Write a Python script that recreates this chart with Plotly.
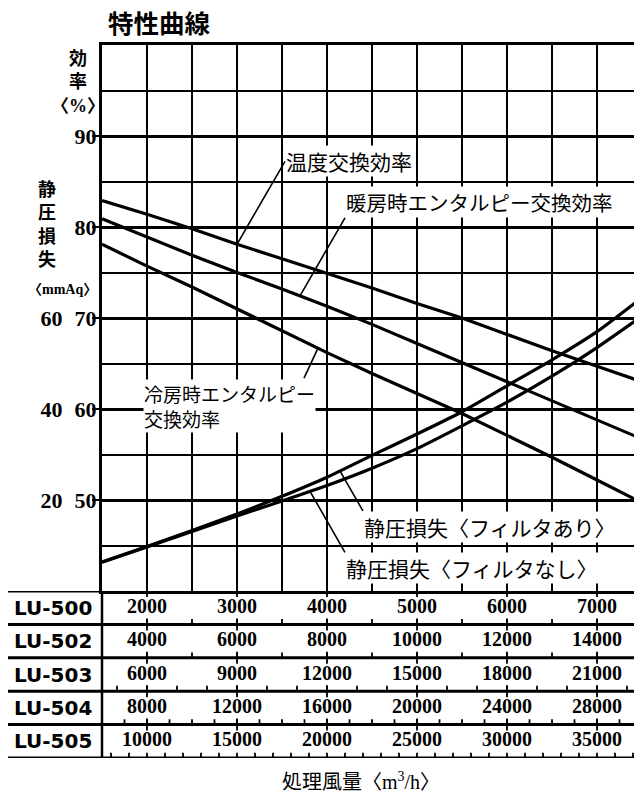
import numpy as np
import plotly.graph_objects as go

# ---------------- data (airflow in LU-500 units, m3/h) ----------------
flow = [1500, 2000, 2500, 3000, 3500, 4000, 4500, 5000, 5500, 6000, 6500, 7000, 7500]
temp_eff = [82.9, 81.4, 79.8, 78.1, 76.5, 74.9, 73.3, 71.6, 70.0, 68.2, 66.4, 64.7, 63.0]
heat_eff = [80.9, 78.9, 76.9, 75.0, 73.2, 71.3, 69.3, 67.2, 65.1, 63.0, 60.9, 58.8, 56.7]
cool_eff = [78.1, 75.7, 73.4, 71.0, 68.6, 66.2, 63.9, 61.7, 59.5, 57.1, 54.7, 52.2, 49.7]
sp_filter = [6.4, 9.8, 13.3, 16.9, 20.8, 25.0, 29.8, 34.5, 39.4, 45.1, 50.8, 57.0, 64.5]
sp_nofilter = [6.3, 9.7, 13.1, 16.5, 19.8, 23.2, 27.0, 31.3, 36.3, 41.5, 47.2, 53.5, 60.4]

eff_ticks = [50, 60, 70, 80, 90]
sp_ticks = [20, 40, 60]

models = ["LU-500", "LU-502", "LU-503", "LU-504", "LU-505"]
scale = [1, 2, 3, 4, 5]
row_labels = [
    [2000, 3000, 4000, 5000, 6000, 7000],
    [4000, 6000, 8000, 10000, 12000, 14000],
    [6000, 9000, 12000, 15000, 18000, 21000],
    [8000, 12000, 16000, 20000, 24000, 28000],
    [10000, 15000, 20000, 25000, 30000, 35000],
]
minor_step = [500, 1000, 1000, 1000, 1000]

# ---------------- layout geometry ----------------
W, H = 634, 795
M_T, M_B = 45, 37
PLOT_H = H - M_T - M_B
X_DOM0 = 102 / W
Y_DOM0 = 167 / PLOT_H
x_lo, x_hi = 1500, 7411
x2_lo = x_lo - X_DOM0 / (1 - X_DOM0) * (x_hi - x_lo)


def px(x):
    return x / W


def py(y):
    return (H - M_B - y) / PLOT_H


CJK = "Noto Sans CJK JP"
SERIF = "Liberation Serif, Noto Sans CJK JP"

fig = go.Figure()
eff_style = dict(color="black", width=3.2)
sp_style = dict(color="black", width=3.2, shape="spline", smoothing=0.6)
for s in [temp_eff, heat_eff, cool_eff]:
    fig.add_trace(go.Scatter(x=flow, y=s, mode="lines", line=eff_style,
                             xaxis="x", yaxis="y", hoverinfo="skip"))
for s in [sp_filter, sp_nofilter]:
    fig.add_trace(go.Scatter(x=flow, y=s, mode="lines", line=sp_style,
                             xaxis="x", yaxis="y2", hoverinfo="skip"))

# ---------------- table ----------------
n = len(models)
for i, (m, f, vals, step) in enumerate(zip(models, scale, row_labels, minor_step)):
    top = n - i
    ctr = top - 0.5
    bot = top - 1
    fig.add_trace(go.Scatter(
        x=[v / f for v in vals], y=[ctr] * len(vals), mode="text",
        text=[str(v) for v in vals],
        textfont=dict(family=SERIF, size=20, color="black", weight="bold"),
        xaxis="x2", yaxis="y3", hoverinfo="skip"))
    xs, ys = [], []
    for v in vals:
        xs += [v / f, v / f, None]
        ys += [top - 0.18, top + 0.18, None]
    start = int(np.ceil(x_lo * f / step)) * step
    for v in range(start, int(x_hi * f) + 1, step):
        xs += [v / f, v / f, None]
        ys += [bot, bot + 0.16, None]
    fig.add_trace(go.Scatter(x=xs, y=ys, mode="lines",
                             line=dict(color="black", width=1.8),
                             xaxis="x2", yaxis="y3", hoverinfo="skip"))
    fig.add_annotation(text=m, xref="paper", x=px(12), xanchor="left",
                       yref="y3", y=ctr, yanchor="middle", showarrow=False,
                       font=dict(family="DejaVu Sans", size=20, color="black", weight="bold"))

for k in range(n + 1):
    fig.add_shape(type="line", xref="paper", x0=px(8), x1=1, yref="y3", y0=k, y1=k,
                  line=dict(color="black", width=3))
fig.add_shape(type="line", xref="x2", x0=x_lo, x1=x_lo, yref="y3", y0=0, y1=n,
              line=dict(color="black", width=2.5))


def at(xv, s):
    return float(np.interp(xv, flow, s))


def lab_font(sz):
    return dict(family=CJK, size=sz, color="black")


# temperature
fig.add_annotation(x=3000, y=at(3000, temp_eff), xref="x", yref="y",
                   text="温度交換効率", showarrow=True, arrowhead=0, arrowwidth=1.6,
                   arrowcolor="black", ax=48, ay=-83, xanchor="left", yanchor="middle",
                   font=lab_font(21), bgcolor="white", borderpad=0)
# heating
fig.add_annotation(x=3700, y=at(3700, heat_eff), xref="x", yref="y",
                   text="暖房時エンタルピー交換効率", showarrow=True, arrowhead=0, arrowwidth=1.6,
                   arrowcolor="black", ax=45, ay=-78, xanchor="left", yanchor="bottom",
                   font=lab_font(20.5), bgcolor="white", borderpad=0)
# cooling: text + leader line
fig.add_annotation(x=px(316), y=py(379), xref="paper", yref="paper",
                   text="冷房時エンタルピー<br>交換効率", showarrow=False, align="left",
                   xanchor="right", yanchor="top",
                   font=lab_font(19), bgcolor="white", borderpad=0)
fig.add_shape(type="line", xref="x", yref="y", xsizemode="pixel", ysizemode="pixel",
              xanchor=3900, yanchor=at(3900, cool_eff), x0=0, x1=-14, y0=0, y1=-30,
              line=dict(color="black", width=1.6))
# static pressure
fig.add_annotation(x=4144, y=at(4144, sp_filter), xref="x", yref="y2",
                   text="静圧損失〈フィルタあり〉", showarrow=True, arrowhead=0, arrowwidth=1.6,
                   arrowcolor="black", ax=23, ay=40, xanchor="left", yanchor="top",
                   font=lab_font(21), bgcolor="white", borderpad=0)
fig.add_annotation(x=3811, y=at(3811, sp_nofilter), xref="x", yref="y2",
                   text="静圧損失〈フィルタなし〉", showarrow=True, arrowhead=0, arrowwidth=1.6,
                   arrowcolor="black", ax=35, ay=61, xanchor="left", yanchor="top",
                   font=lab_font(21), bgcolor="white", borderpad=0)

# ---------------- axis titles / title ----------------
fig.add_annotation(text="効<br>率<br>〈%〉", x=px(78), y=py(47), xref="paper", yref="paper",
                   showarrow=False, xanchor="center", yanchor="top", align="center",
                   font=dict(family=SERIF, size=18, color="black", weight="bold"))
fig.add_annotation(text="静<br>圧<br>損<br>失", x=px(47), y=py(178), xref="paper", yref="paper",
                   showarrow=False, xanchor="center", yanchor="top", align="center",
                   font=dict(family=SERIF, size=18, color="black", weight="bold"))
fig.add_annotation(text="〈mmAq〉", x=px(62), y=py(289), xref="paper", yref="paper",
                   showarrow=False, xanchor="center", yanchor="middle",
                   font=dict(family=SERIF, size=14, color="black", weight="bold"))
fig.add_annotation(text="特性曲線", x=px(106), y=py(21), xref="paper", yref="paper",
                   showarrow=False, xanchor="left", yanchor="middle",
                   font=dict(family=CJK, size=25.5, color="black", weight="bold"))
fig.add_annotation(text="処理風量〈m<sup>3</sup>/h〉", x=px(361), y=py(781),
                   xref="paper", yref="paper", showarrow=False,
                   xanchor="center", yanchor="middle",
                   font=dict(family=SERIF, size=20, color="black"))

tickfont = dict(family=SERIF, size=22, color="black", weight="bold")
fig.update_layout(
    width=W, height=H, margin=dict(l=0, r=0, t=M_T, b=M_B, pad=0),
    paper_bgcolor="white", plot_bgcolor="white", showlegend=False,
    xaxis=dict(domain=[X_DOM0, 1], range=[x_lo, x_hi], anchor="y",
               tickmode="linear", tick0=x_lo, dtick=500, showgrid=True,
               gridcolor="black", gridwidth=2, showticklabels=False, ticks="",
               showline=True, linecolor="black", linewidth=3, mirror=True,
               zeroline=False, automargin=False),
    yaxis=dict(domain=[Y_DOM0, 1], range=[40, 100], anchor="x",
               tickmode="array", tickvals=eff_ticks, ticktext=[str(v) for v in eff_ticks],
               showgrid=True, gridcolor="black", gridwidth=3,
               minor=dict(tickmode="array", tickvals=list(range(45, 100, 10)),
                          showgrid=True, gridcolor="black", gridwidth=2, ticks=""),
               ticks="outside", ticklen=7, tickwidth=2, tickcolor="black",
               ticklabelstandoff=-9,
               tickfont=tickfont, showline=True, linecolor="black", linewidth=3,
               zeroline=False, automargin=False),
    yaxis2=dict(overlaying="y", side="left", anchor="x", range=[0, 120],
                tickmode="array", tickvals=sp_ticks, ticktext=[str(v) for v in sp_ticks],
                showgrid=False, ticks="outside", ticklen=7, tickwidth=2, tickcolor="black",
                ticklabelstandoff=27, tickfont=tickfont, zeroline=False,
                showline=False, automargin=False),
    xaxis2=dict(domain=[0, 1], range=[x2_lo, x_hi], anchor="y3", visible=False),
    yaxis3=dict(domain=[0, Y_DOM0], range=[0, n], anchor="x2", visible=False),
)

fig.write_html("out.html", config={"displayModeBar": False},
               post_script="document.body.style.margin='0px';")
